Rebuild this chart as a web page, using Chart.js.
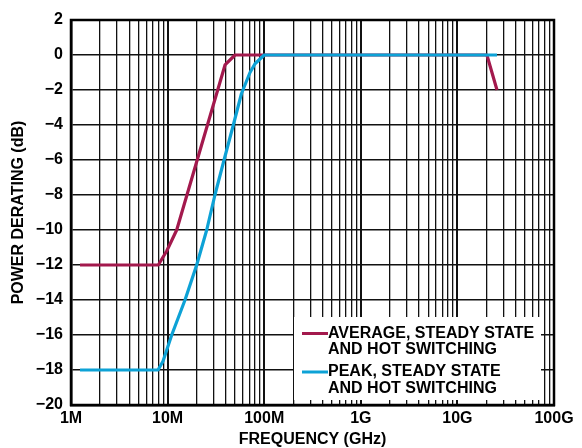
<!DOCTYPE html>
<html><head><meta charset="utf-8">
<script src="https://cdn.jsdelivr.net/npm/chart.js@4.4.0/dist/chart.umd.min.js"></script>
<style>html,body{margin:0;padding:0;background:#fff}#wrap{width:582px;height:448px;position:relative}</style>
</head><body><div id="wrap"><canvas id="c" width="582" height="448"></canvas></div>
<script>
// Data
const avgFreq = [1.24e6, 8.01e6, 9.79e6, 12.42e6, 39.3e6, 49.9e6, 20.2e9, 25.7e9];
const avgDb   = [-12, -12, -11.2, -10, -0.57, 0, 0, -2];
const peakFreq = [1.24e6, 7.96e6, 8.96e6, 11.03e6, 15.14e6, 20.0e6, 25.4e6, 30.9e6, 38.4e6, 47.9e6, 58.2e6, 71.3e6, 80.3e6, 100e6, 25.7e9];
const peakDb   = [-18, -18, -17.5, -16, -14, -12, -10, -8, -6, -4, -2.2, -1.0, -0.5, 0, 0];
const xTickValues = [1e6, 1e7, 1e8, 1e9, 1e10, 1e11];
const xTickLabels = ['1M', '10M', '100M', '1G', '10G', '100G'];
const legendLabels = [['AVERAGE, STEADY STATE', 'AND HOT SWITCHING'], ['PEAK, STEADY STATE', 'AND HOT SWITCHING']];
const seriesNames = ['AVERAGE, STEADY STATE AND HOT SWITCHING', 'PEAK, STEADY STATE AND HOT SWITCHING'];

const AVG_COLOR = '#A3194D';
const PEAK_COLOR = '#0DA2D6';
const FONT = 'Arial, "Liberation Sans", Helvetica, sans-serif';

// decade + minor tick values for the log grid
const allXTicks = [];
for (let e = 6; e <= 11; e++) {
  for (let m = 1; m <= 9; m++) {
    const v = m * Math.pow(10, e);
    if (v <= 1e11 * 1.0001) allXTicks.push(v);
  }
}
function isDecade(v) {
  return xTickValues.some(d => Math.abs(v - d) / d < 1e-6);
}
function decadeLabel(v) {
  const i = xTickValues.findIndex(d => Math.abs(v - d) / d < 1e-6);
  return i >= 0 ? xTickLabels[i] : '';
}

const legendPlugin = {
  id: 'boxLegend',
  afterDraw(chart) {
    const ctx = chart.ctx;
    ctx.save();
    ctx.fillStyle = '#fff';
    ctx.fillRect(294, 317, 247, 83);
    const rows = [
      {color: AVG_COLOR, y: 333.5, lines: legendLabels[0]},
      {color: PEAK_COLOR, y: 372, lines: legendLabels[1]}
    ];
    ctx.font = 'bold 16px ' + FONT;
    ctx.textBaseline = 'middle';
    ctx.textAlign = 'left';
    rows.forEach(r => {
      ctx.strokeStyle = r.color;
      ctx.lineWidth = 3;
      ctx.beginPath();
      ctx.moveTo(302, r.y);
      ctx.lineTo(328, r.y);
      ctx.stroke();
      ctx.fillStyle = '#000';
      ctx.fillText(r.lines[0], 328, r.y);
      ctx.fillText(r.lines[1], 328, r.y + 16.5);
    });
    ctx.restore();
  }
};

const borderPlugin = {
  id: 'frame',
  afterDatasetsDraw(chart) {
    const a = chart.chartArea;
    const ctx = chart.ctx;
    ctx.save();
    ctx.strokeStyle = '#000';
    ctx.lineWidth = 2.5;
    ctx.strokeRect(a.left, a.top, a.right - a.left, a.bottom - a.top);
    ctx.restore();
  }
};

new Chart(document.getElementById('c'), {
  type: 'line',
  data: {
    datasets: [
      {
        label: seriesNames[0],
        data: avgFreq.map((f, i) => ({x: f, y: avgDb[i]})),
        borderColor: AVG_COLOR, borderWidth: 3.2, pointRadius: 0, tension: 0, fill: false,
        borderJoinStyle: 'round', borderCapStyle: 'butt', order: 1
      },
      {
        label: seriesNames[1],
        data: peakFreq.map((f, i) => ({x: f, y: peakDb[i]})),
        borderColor: PEAK_COLOR, borderWidth: 3.2, pointRadius: 0, tension: 0, fill: false,
        borderJoinStyle: 'round', borderCapStyle: 'butt', order: 0
      }
    ]
  },
  options: {
    responsive: false,
    animation: false,
    devicePixelRatio: 1,
    layout: {padding: {top: 20, right: 28, bottom: 0, left: 0}},
    plugins: {legend: {display: false}, tooltip: {enabled: false}},
    scales: {
      x: {
        type: 'logarithmic',
        min: 1e6, max: 1e11,
        afterBuildTicks(scale) {
          scale.ticks = allXTicks.map(v => ({value: v, major: isDecade(v)}));
        },
        afterFit(scale) { scale.height = 43; },
        ticks: {
          autoSkip: false, maxRotation: 0, minRotation: 0, padding: 4,
          color: '#000', font: {family: FONT, size: 16, weight: 'bold'},
          callback: (v) => decadeLabel(v)
        },
        grid: {
          color: '#111', drawTicks: false,
          lineWidth: (c) => (c.tick && isDecade(c.tick.value)) ? 2 : 1.3
        },
        border: {display: true, color: '#000', width: 2.5},
        title: {
          display: true, text: 'FREQUENCY (GHz)', color: '#000',
          font: {family: FONT, size: 16, weight: 'bold', lineHeight: 1.0},
          padding: {top: 0, bottom: 0}
        }
      },
      y: {
        min: -20, max: 2,
        afterBuildTicks(scale) {
          const t = [];
          for (let v = -20; v <= 2; v += 2) t.push({value: v});
          scale.ticks = t;
        },
        afterFit(scale) { scale.width = 71; },
        ticks: {
          padding: 8, color: '#000', font: {family: FONT, size: 16, weight: 'bold'},
          callback: (v) => v < 0 ? '\u2212' + Math.abs(v) : String(v)
        },
        grid: {color: '#111', drawTicks: false, lineWidth: 1.5},
        border: {display: true, color: '#000', width: 2.5},
        title: {
          display: true, text: 'POWER DERATING (dB)', color: '#000',
          font: {family: FONT, size: 16, weight: 'bold', lineHeight: 1.2},
          padding: {top: 9, bottom: 0}
        }
      }
    }
  },
  plugins: [borderPlugin, legendPlugin]
});
</script></body></html>
